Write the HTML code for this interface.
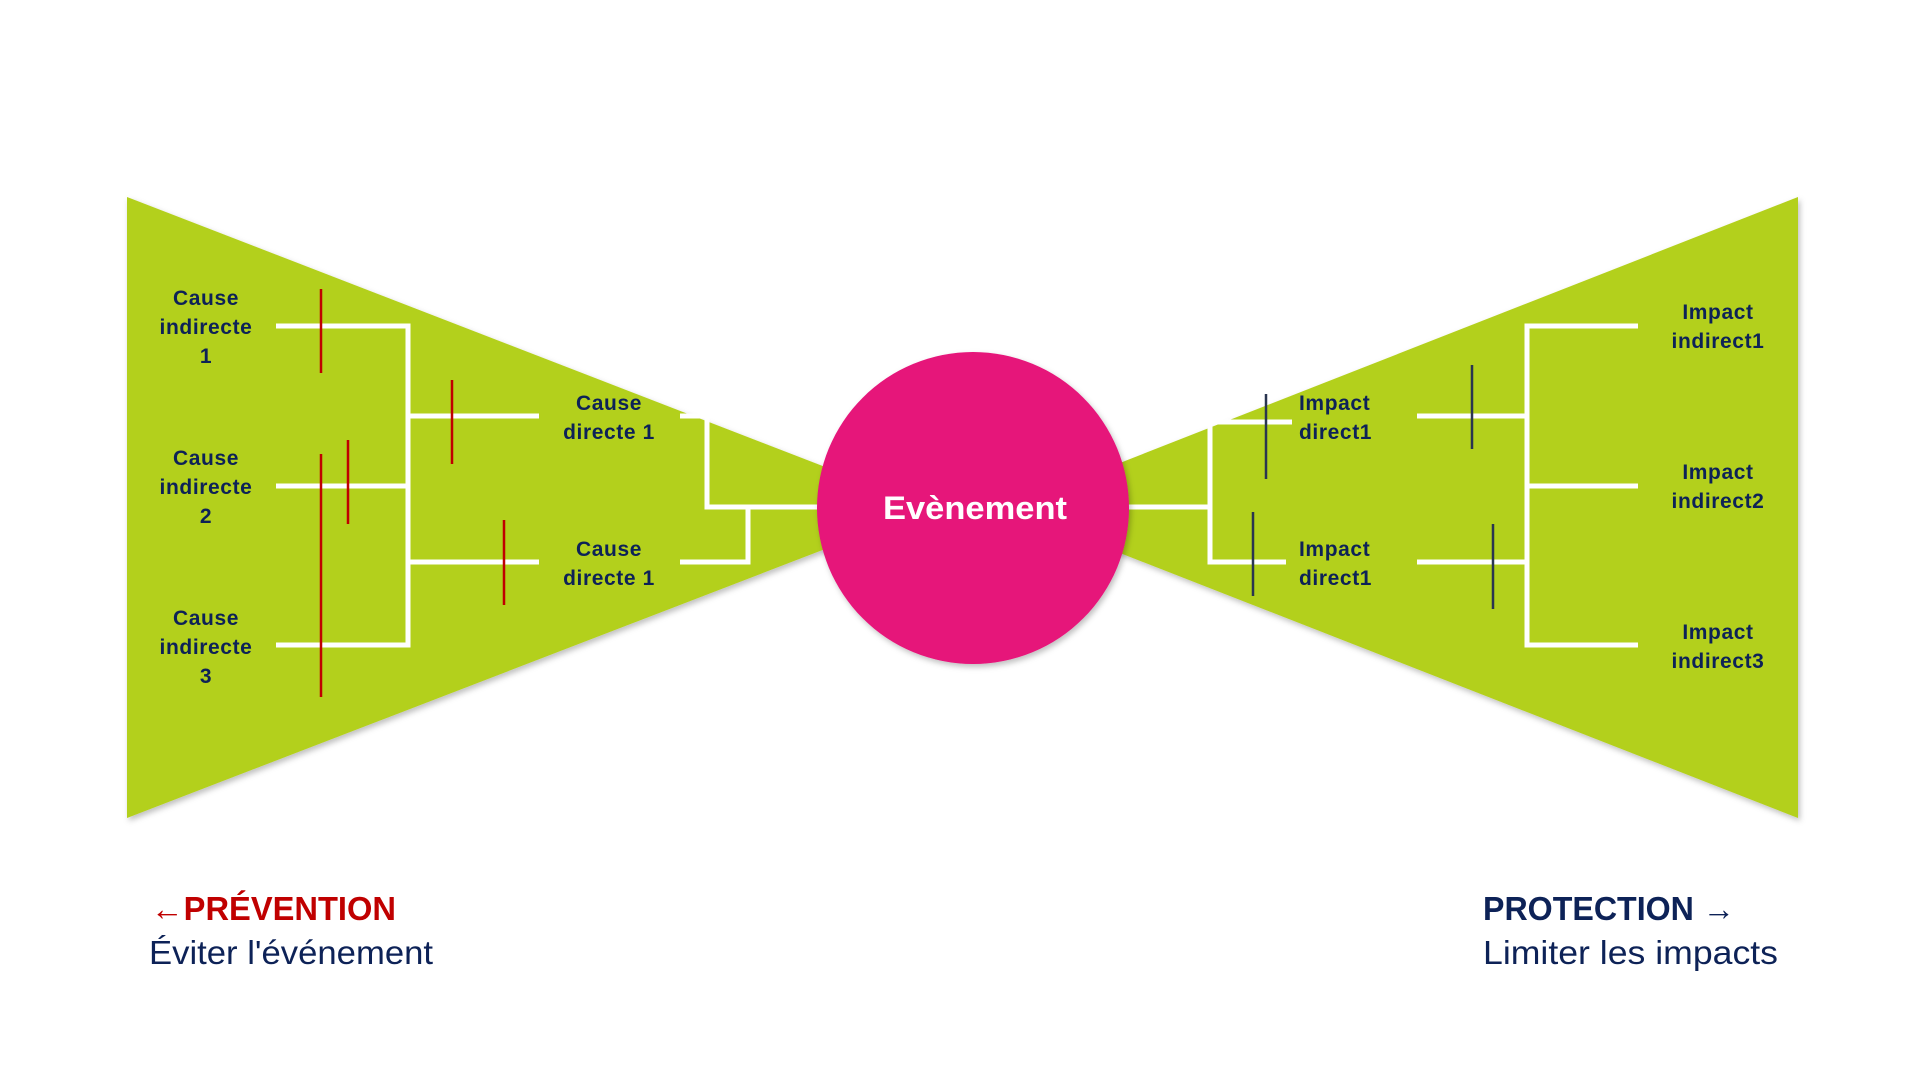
<!DOCTYPE html>
<html><head><meta charset="utf-8"><style>
html,body{margin:0;padding:0;background:#fff;}
svg{display:block;}
</style></head><body>
<svg width="1920" height="1077" viewBox="0 0 1920 1077" xmlns="http://www.w3.org/2000/svg" font-family="Liberation Sans, DejaVu Sans, sans-serif">
<defs><filter id="sh" x="-5%" y="-5%" width="110%" height="110%"><feDropShadow dx="2" dy="3" stdDeviation="3" flood-color="#000" flood-opacity="0.25"/></filter></defs>
<polygon points="127,197 833,470 833,546 127,818" fill="#b3d01a" filter="url(#sh)"/>
<polygon points="1798,197 1102,470 1102,546 1798,818" fill="#b3d01a" filter="url(#sh)"/>
<g stroke="#fff" stroke-width="5" fill="none">
<polyline points="276,326 408,326 408,645 276,645"/>
<line x1="276" y1="486" x2="408" y2="486"/>
<line x1="408" y1="416" x2="539" y2="416"/>
<line x1="408" y1="562" x2="539" y2="562"/>
<polyline points="680,416 707,416 707,507 830,507"/>
<polyline points="680,562 748,562 748,507"/>
<polyline points="1120,507 1210,507"/>
<polyline points="1292,422 1210,422 1210,562 1286,562"/>
<line x1="1417" y1="416" x2="1527" y2="416"/>
<line x1="1417" y1="562" x2="1527" y2="562"/>
<polyline points="1638,326 1527,326 1527,645 1638,645"/>
<line x1="1527" y1="486" x2="1638" y2="486"/>
</g>
<g stroke="#c00000" stroke-width="2.5">
<line x1="321" y1="289" x2="321" y2="373"/>
<line x1="321" y1="454" x2="321" y2="697"/>
<line x1="348" y1="440" x2="348" y2="524"/>
<line x1="452" y1="380" x2="452" y2="464"/>
<line x1="504" y1="520" x2="504" y2="605"/>
</g>
<g stroke="#2a3550" stroke-width="2.5">
<line x1="1266" y1="394" x2="1266" y2="479"/>
<line x1="1253" y1="512" x2="1253" y2="596"/>
<line x1="1472" y1="365" x2="1472" y2="449"/>
<line x1="1493" y1="524" x2="1493" y2="609"/>
</g>
<circle cx="973" cy="508" r="156" fill="#e6127a" filter="url(#sh)"/>
<text x="883" y="519" font-size="32" font-weight="bold" fill="#fff" textLength="184" lengthAdjust="spacingAndGlyphs">Evènement</text>
<g font-size="21" font-weight="bold" fill="#0d2257" text-anchor="middle" letter-spacing="0.6">
<text x="206" y="305">Cause</text><text x="206" y="334">indirecte</text><text x="206" y="363">1</text>
<text x="206" y="465">Cause</text><text x="206" y="494">indirecte</text><text x="206" y="523">2</text>
<text x="206" y="625">Cause</text><text x="206" y="654">indirecte</text><text x="206" y="683">3</text>
<text x="609" y="410">Cause</text><text x="609" y="439">directe 1</text>
<text x="609" y="556">Cause</text><text x="609" y="585">directe 1</text>
<text x="1718" y="319">Impact</text><text x="1718" y="348">indirect1</text>
<text x="1718" y="479">Impact</text><text x="1718" y="508">indirect2</text>
<text x="1718" y="639">Impact</text><text x="1718" y="668">indirect3</text>
</g>
<g font-size="21" font-weight="bold" fill="#0d2257" letter-spacing="0.6">
<text x="1299" y="410">Impact</text><text x="1299" y="439">direct1</text>
<text x="1299" y="556">Impact</text><text x="1299" y="585">direct1</text>
</g>
<text x="151" y="920" font-size="33" font-weight="bold" fill="#c00000" textLength="245" lengthAdjust="spacingAndGlyphs">←PRÉVENTION</text>
<text x="149" y="964" font-size="33" fill="#0d2257" textLength="284" lengthAdjust="spacingAndGlyphs">Éviter l'événement</text>
<text x="1483" y="920" font-size="33" font-weight="bold" fill="#0d2257" textLength="252" lengthAdjust="spacingAndGlyphs">PROTECTION →</text>
<text x="1483" y="964" font-size="33" fill="#0d2257" textLength="295" lengthAdjust="spacingAndGlyphs">Limiter les impacts</text>
</svg>
</body></html>
